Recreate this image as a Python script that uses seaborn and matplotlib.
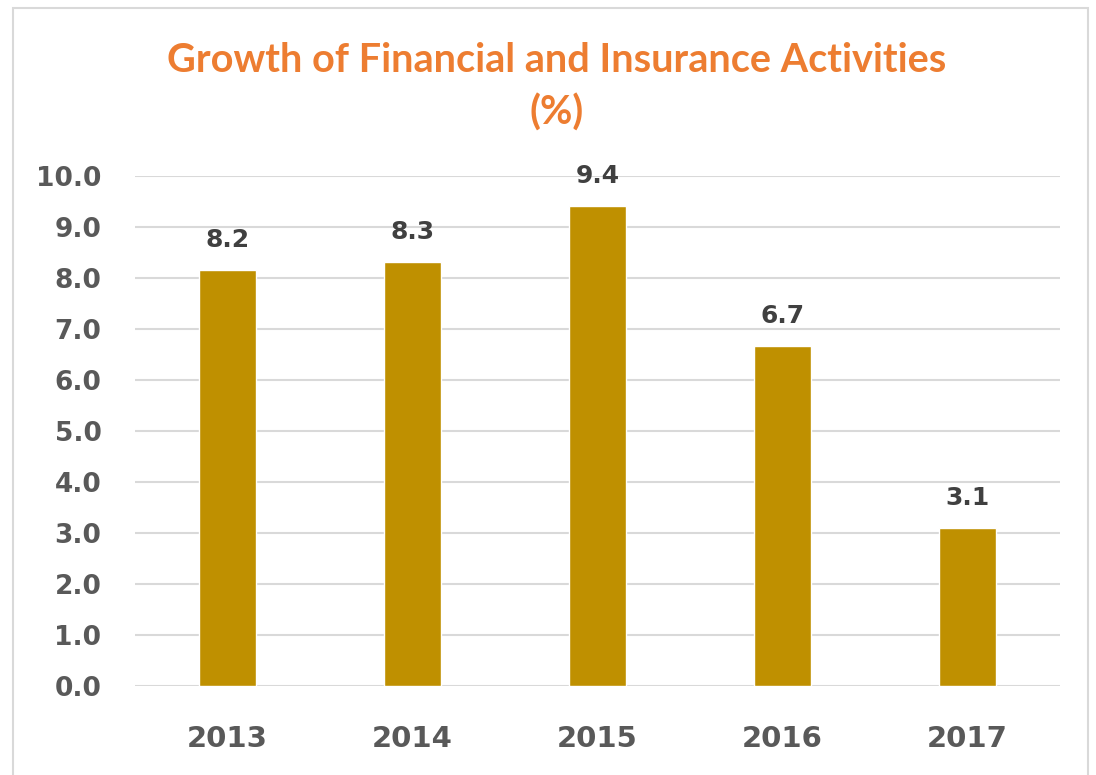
import matplotlib
matplotlib.use("Agg")
import matplotlib.pyplot as plt
import seaborn as sns
import pandas as pd
from matplotlib.patches import Rectangle

years = ["2013", "2014", "2015", "2016", "2017"]
growth = [8.16, 8.31, 9.41, 6.67, 3.10]
y_ticks = [0, 1, 2, 3, 4, 5, 6, 7, 8, 9, 10]

df = pd.DataFrame({"Year": years, "Growth": growth})

sns.set_style("white")

fig = plt.figure(figsize=(10.96, 7.75), dpi=100)
ax = fig.add_axes([0.123, 0.115, 0.844, 0.658])

sns.barplot(
    data=df,
    x="Year",
    y="Growth",
    color="#BF9000",
    saturation=1,
    width=0.31,
    ax=ax
)

ax.set_ylim(0, 10)
ax.set_xlim(-0.5, 4.5)
ax.set_yticks(y_ticks)
ax.set_yticklabels([f"{v:.1f}" for v in y_ticks])
ax.yaxis.grid(True, color="#D9D9D9", linewidth=1.5)
ax.set_axisbelow(True)
for s in ax.spines.values():
    s.set_visible(False)

ax.tick_params(axis="y", labelsize=19, colors="#595959", length=0, pad=24)
ax.tick_params(axis="x", labelsize=21, colors="#595959", length=0, pad=28)
for lbl in ax.get_yticklabels() + ax.get_xticklabels():
    lbl.set_fontweight("bold")

ax.set_xlabel("")
ax.set_ylabel("")

for i, v in enumerate(growth):
    ax.annotate(
        f"{v:.1f}",
        (i, v),
        xytext=(0, 13),
        textcoords="offset points",
        ha="center",
        va="bottom",
        fontsize=18,
        fontweight="bold",
        color="#404040"
    )

fig.text(
    0.508, 0.922,
    "Growth of Financial and Insurance Activities",
    ha="center", va="center",
    fontsize=28.5, fontweight="bold", color="#ED7D31",
    family="Lato"
)
fig.text(
    0.508, 0.855,
    "(%)",
    ha="center", va="center",
    fontsize=28.5, fontweight="bold", color="#ED7D31",
    family="Lato"
)

fig.patches.append(Rectangle(
    (0.012, -0.01), 0.981, 1.0,
    transform=fig.transFigure,
    fill=False, edgecolor="#D9D9D9", linewidth=1.5
))

fig.savefig("out.png", dpi=100)
plt.close(fig)
